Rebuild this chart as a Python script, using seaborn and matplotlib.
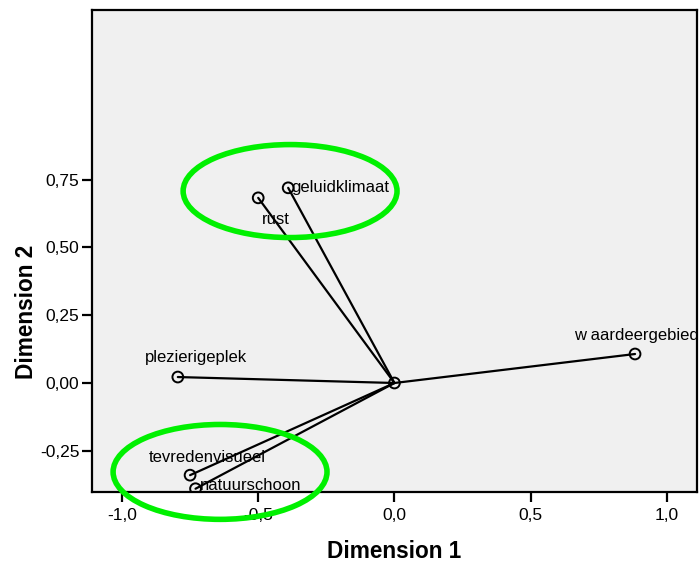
import matplotlib
matplotlib.use('Agg')
import matplotlib.pyplot as plt
from matplotlib import font_manager as fm
from matplotlib.patches import Ellipse
from matplotlib.ticker import FuncFormatter
import pandas as pd
import seaborn as sns

# component loadings
variables = ['rust', 'geluidklimaat', 'plezierigeplek', 'tevredenvisueel',
             'natuurschoon', 'w aardeergebied']
dim1 = [-0.50, -0.39, -0.795, -0.75, -0.73, 0.883]
dim2 = [0.683, 0.72, 0.022, -0.34, -0.39, 0.107]

# label placement (offset in points, alignment)
label_pos = {
    'rust': ((3, -10), 'left', 'top'),
    'geluidklimaat': ((2, 0), 'left', 'center'),
    'plezierigeplek': ((-24, 9), 'left', 'bottom'),
    'tevredenvisueel': ((-30, 7), 'left', 'bottom'),
    'natuurschoon': ((3, 2), 'left', 'center'),
    'w aardeergebied': ((46, 8), 'right', 'bottom'),
}

# hand drawn highlight ellipses: centre x, centre y, width, height
ell_x = [-0.383, -0.64]
ell_y = [0.708, -0.328]
ell_w = [0.785, 0.785]
ell_h = [0.343, 0.35]

df = pd.DataFrame({'variable': variables, 'Dimension 1': dim1, 'Dimension 2': dim2})

sns.set_style('white')
plt.rcParams['font.family'] = ['Liberation Sans', 'DejaVu Sans']
plt.rcParams['text.color'] = 'black'
plt.rcParams['axes.labelcolor'] = 'black'
plt.rcParams['xtick.color'] = 'black'
plt.rcParams['ytick.color'] = 'black'

# pick the regular-width bold face (matplotlib may otherwise grab the Narrow one)
bold_files = [f.fname for f in fm.fontManager.ttflist
              if f.name == 'Liberation Sans' and f.weight in (700, 'bold')
              and 'narrow' not in f.fname.lower() and f.style == 'normal']
if bold_files:
    label_font = fm.FontProperties(fname=bold_files[0], size=16.3)
else:
    label_font = fm.FontProperties(family='DejaVu Sans', weight='bold', size=15)

fig = plt.figure(figsize=(6.99, 5.64), dpi=100)
ax = fig.add_axes([0.1316, 0.1277, 0.8654, 0.8546])
ax.set_facecolor('#f0f0f0')

for x, y in zip(df['Dimension 1'], df['Dimension 2']):
    ax.plot([0, x], [0, y], color='black', lw=1.6, zorder=2)

sns.scatterplot(data=df, x='Dimension 1', y='Dimension 2', ax=ax, marker='o',
                s=60, facecolor='none', edgecolor='black', linewidth=1.4, zorder=3)
ax.scatter([0], [0], s=60, facecolor='none', edgecolor='black', linewidth=1.4, zorder=3)

for name, x, y in zip(df['variable'], df['Dimension 1'], df['Dimension 2']):
    off, ha, va = label_pos[name]
    ax.annotate(name, (x, y), xytext=off, textcoords='offset points',
                ha=ha, va=va, fontsize=12, color='black', zorder=4,
                annotation_clip=False)

for cx, cy, w, h in zip(ell_x, ell_y, ell_w, ell_h):
    e = Ellipse((cx, cy), w, h, fill=False, edgecolor='#00f000', lw=4,
                zorder=5, clip_on=False)
    ax.add_patch(e)

ax.set_xlim(-1.11, 1.11)
ax.set_ylim(-0.402, 1.376)
ax.set_xticks([-1.0, -0.5, 0.0, 0.5, 1.0])
ax.set_yticks([-0.25, 0.0, 0.25, 0.5, 0.75])
ax.xaxis.set_major_formatter(FuncFormatter(lambda v, p: f'{v:.1f}'.replace('.', ',')))
ax.yaxis.set_major_formatter(FuncFormatter(lambda v, p: f'{v:.2f}'.replace('.', ',')))
ax.tick_params(axis='both', direction='out', length=7.5, width=1.6, labelsize=12.5,
               bottom=True, left=True, pad=1.5)
ax.tick_params(axis='x', pad=4)

for sp in ax.spines.values():
    sp.set_color('black')
    sp.set_linewidth(1.6)

ax.set_xlabel('Dimension 1', fontproperties=label_font, labelpad=12)
ax.set_ylabel('Dimension 2', fontproperties=label_font)
# SPSS puts the y title below the middle of the frame
ax.yaxis.set_label_coords(-0.089, 0.373)

fig.savefig('out.png', dpi=100)
